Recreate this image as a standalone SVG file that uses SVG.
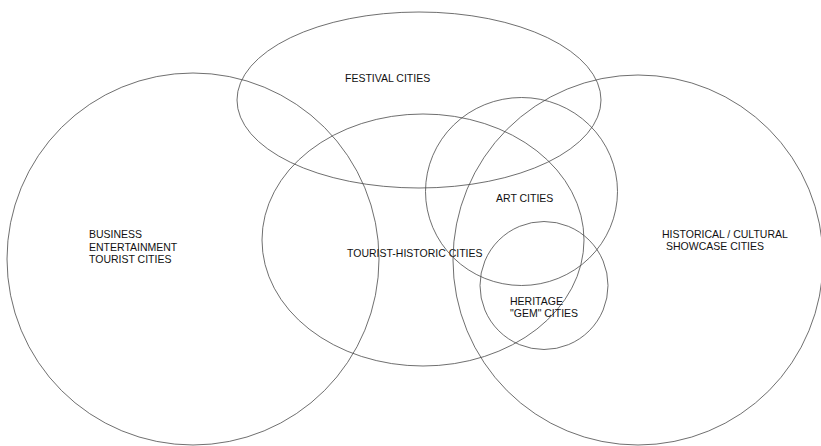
<svg xmlns="http://www.w3.org/2000/svg" width="821" height="446" viewBox="0 0 821 446">
<style>
.c{fill:none;stroke:#4a4a4a;stroke-width:0.8}
.t{font-family:"Liberation Sans",Arial,sans-serif;font-size:10.5px;fill:#111}
</style>
<rect width="821" height="446" fill="#fff"/>
<g id="business">
<circle class="c" cx="193" cy="259" r="186"/>
<text class="t" x="89" y="238">BUSINESS</text>
<text class="t" x="89" y="250.5">ENTERTAINMENT</text>
<text class="t" x="89" y="263">TOURIST CITIES</text>
</g>
<g id="festival">
<ellipse class="c" cx="419" cy="100" rx="182" ry="88"/>
<text class="t" x="345" y="82">FESTIVAL CITIES</text>
</g>
<g id="tourist-historic">
<ellipse class="c" cx="423" cy="240" rx="161" ry="126"/>
<text class="t" x="347" y="257">TOURIST-HISTORIC CITIES</text>
</g>
<g id="art">
<ellipse class="c" cx="521.5" cy="191.5" rx="96" ry="94"/>
<text class="t" x="496" y="202">ART CITIES</text>
</g>
<g id="historical">
<circle class="c" cx="638" cy="260" r="185"/>
<text class="t" x="662" y="237.5">HISTORICAL / CULTURAL</text>
<text class="t" x="666" y="250">SHOWCASE CITIES</text>
</g>
<g id="heritage">
<circle class="c" cx="544" cy="285.5" r="64"/>
<text class="t" x="510" y="304.5">HERITAGE</text>
<text class="t" x="510" y="317">"GEM" CITIES</text>
</g>
<g id="connectors"/>
</svg>
